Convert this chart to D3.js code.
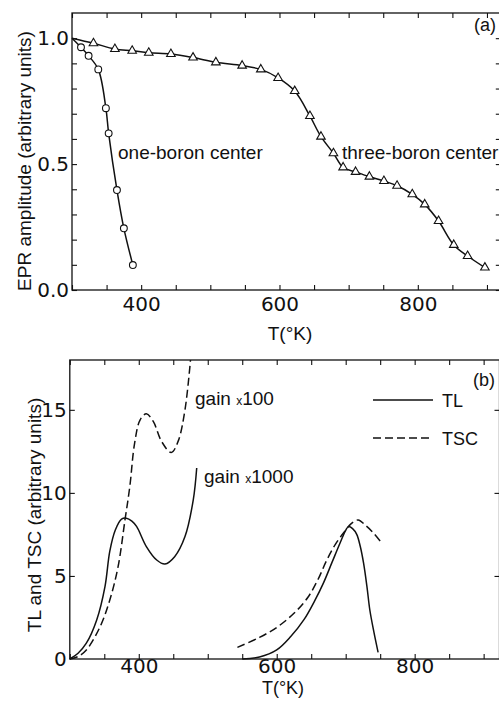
<!DOCTYPE html>
<html>
<head>
<meta charset="utf-8">
<script src="https://cdn.jsdelivr.net/npm/d3@7"></script>
<style>
  body { margin: 0; background: #fff; }
  text { font-family: "Liberation Sans", Arial, sans-serif; fill: #111; }
  .num text, text.num { font-family: "DejaVu Sans", sans-serif; font-size: 20px; }
</style>
</head>
<body>
<svg id="fig" width="499" height="703"></svg>
<script>
// (a) EPR amplitude vs temperature
const oneBoronT = [300, 313, 324, 338, 349, 353, 365, 375, 388];
const oneBoronAmp = [1.0, 0.964, 0.93, 0.876, 0.722, 0.622, 0.397, 0.245, 0.099];
const threeBoronT = [300, 331, 362, 387, 411, 443, 475, 508, 546, 573, 598, 622, 644, 660, 678, 692, 710, 730, 751, 770, 792, 810, 830, 852, 872, 897];
const threeBoronAmp = [1.0, 0.98, 0.957, 0.95, 0.942, 0.937, 0.923, 0.904, 0.891, 0.876, 0.842, 0.79, 0.691, 0.609, 0.543, 0.487, 0.469, 0.45, 0.433, 0.414, 0.38, 0.34, 0.274, 0.179, 0.135, 0.089];

// (b) TL and TSC glow curves (low-T part is shown with gain)
const tlLowT = [300, 312, 324, 339, 351, 358, 366, 375, 382, 390, 397, 411, 426, 438, 452, 467, 479, 484];
const tlLowI = [0, 0.35, 0.95, 2.35, 4.36, 6.5, 7.77, 8.42, 8.48, 8.3, 7.97, 6.77, 5.96, 5.72, 6.16, 7.37, 9.58, 11.5];
const tscLowT = [300, 312, 324, 344, 358, 370, 380, 387, 394, 402, 411, 421, 433, 447, 457, 467, 475];
const tscLowI = [0, 0.15, 0.54, 1.95, 3.55, 5.56, 8.37, 10.38, 13.0, 14.4, 14.76, 14.3, 13.1, 12.43, 13.1, 15.0, 18.0];
const tlHighT = [550, 575, 600, 620, 640, 655, 668, 680, 692, 700, 704, 710, 716, 721, 726, 731, 735, 741, 747];
const tlHighI = [0, 0.12, 0.55, 1.34, 2.4, 3.5, 4.6, 5.8, 7.0, 7.75, 7.97, 7.85, 7.5, 6.8, 5.75, 4.3, 2.95, 1.6, 0.4];
const tscHighT = [543, 575, 600, 625, 645, 660, 672, 685, 697, 708, 718, 730, 740, 750];
const tscHighI = [0.7, 1.3, 1.9, 2.75, 3.7, 4.8, 5.9, 6.9, 7.6, 8.15, 8.37, 8.0, 7.6, 7.1];

const xTicksMajor = [400, 600, 800];
const ampTicks = [0, 0.5, 1.0];
const glowTicks = [0, 5, 10, 15];
const legendItems = [{label: "TL", dash: null}, {label: "TSC", dash: "8,4"}];

const zip = (xs, ys) => xs.map((x, i) => [x, ys[i]]);

const svg = d3.select("#fig");
svg.append("rect").attr("width", 499).attr("height", 703).attr("fill", "#fff");

function frame(g, x, y, xMinor, yMinor, yLabels, yFmt) {
  let [x0, x1] = x.range(), [y0, y1] = y.range();
  // inward minor ticks on all visible sides
  g.append("g").attr("transform", `translate(0,${y0})`)
    .call(d3.axisBottom(x).tickValues(xMinor).tickSize(-5).tickFormat(""));
  g.append("g").attr("transform", `translate(0,${y1})`)
    .call(d3.axisTop(x).tickValues(xMinor).tickSize(-5).tickFormat(""));
  g.append("g").attr("transform", `translate(${x0},0)`)
    .call(d3.axisLeft(y).tickValues(yMinor).tickSize(-5).tickFormat(""));
  g.append("g").attr("transform", `translate(${x1},0)`)
    .call(d3.axisRight(y).tickValues(yMinor).tickSize(-5).tickFormat(""));
  g.selectAll(".domain").remove();
  g.selectAll(".tick line").attr("stroke", "#111").attr("stroke-width", 1.1);
  g.append("rect").attr("x", x0).attr("y", y1).attr("width", x1 - x0).attr("height", y0 - y1)
    .attr("fill", "none").attr("stroke", "#111").attr("stroke-width", 1.3);
  // labels
  g.append("g").attr("class", "num").attr("transform", `translate(${x0},0)`)
    .call(d3.axisLeft(y).tickValues(yLabels).tickSize(0).tickPadding(3).tickFormat(yFmt))
    .call(a => a.select(".domain").remove());
}

// ---------- panel (a)
const xA = d3.scaleLinear().domain([300, 920]).range([72, 500.8]);
const yA = d3.scaleLinear().domain([0, 1.1]).range([290, 13]);
const gA = svg.append("g");
frame(gA, xA, yA, d3.range(300, 901, 50), d3.range(0, 1.05, 0.1), ampTicks, d3.format(".1f"));
gA.append("g").attr("class", "num").attr("transform", "translate(0,290)")
  .call(d3.axisBottom(xA).tickValues(xTicksMajor).tickSize(0).tickPadding(7).tickFormat(d3.format("d")))
  .call(a => a.select(".domain").remove());

const lineA = d3.line().x(d => xA(d[0])).y(d => yA(d[1])).curve(d3.curveCatmullRom.alpha(0.5));
const oneB = zip(oneBoronT, oneBoronAmp), threeB = zip(threeBoronT, threeBoronAmp);
[threeB, oneB].forEach(s => gA.append("path").attr("d", lineA(s))
  .attr("fill", "none").attr("stroke", "#111").attr("stroke-width", 1.5));
gA.selectAll("circle.m").data(oneB.slice(1)).join("circle")
  .attr("cx", d => xA(d[0])).attr("cy", d => yA(d[1])).attr("r", 3.4)
  .attr("fill", "#fff").attr("stroke", "#111").attr("stroke-width", 1.1);
gA.selectAll("path.tri").data(threeB.slice(1)).join("path").attr("class", "tri")
  .attr("transform", d => `translate(${xA(d[0])},${yA(d[1])})`)
  .attr("d", d3.symbol(d3.symbolTriangle, 32))
  .attr("fill", "#fff").attr("stroke", "#111").attr("stroke-width", 1.1);

gA.append("text").attr("x", 118).attr("y", 159).attr("font-size", 19).text("one-boron center");
gA.append("text").attr("x", 342).attr("y", 159).attr("font-size", 19).text("three-boron center");
gA.append("text").attr("x", 474).attr("y", 31).attr("font-size", 18).text("(a)");
gA.append("text").attr("x", 290).attr("y", 340).attr("text-anchor", "middle").attr("font-size", 19).text("T(°K)");
gA.append("text").attr("transform", "translate(31,161) rotate(-90)").attr("text-anchor", "middle")
  .attr("font-size", 19).text("EPR amplitude (arbitrary units)");

// ---------- panel (b)
const xB = d3.scaleLinear().domain([300, 923]).range([69.8, 499.5]);
const yB = d3.scaleLinear().domain([0, 18]).range([659, 360]);
const gB = svg.append("g");
frame(gB, xB, yB, d3.range(300, 901, 50), [5, 10, 15], glowTicks, d3.format("d"));
gB.append("g").attr("class", "num").attr("transform", "translate(0,659)")
  .call(d3.axisBottom(xB).tickValues(xTicksMajor).tickSize(0).tickPadding(0).tickFormat(d3.format("d")))
  .call(a => a.select(".domain").remove())
  .call(a => a.selectAll("text").attr("font-size", 19));

const lineB = d3.line().x(d => xB(d[0])).y(d => yB(d[1])).curve(d3.curveCatmullRom.alpha(0.5));
[[tlLowT, tlLowI, null], [tlHighT, tlHighI, null], [tscLowT, tscLowI, "8,4"], [tscHighT, tscHighI, "8,4"]]
  .forEach(([t, v, dash]) => gB.append("path").attr("d", lineB(zip(t, v)))
    .attr("fill", "none").attr("stroke", "#111").attr("stroke-width", 1.5)
    .attr("stroke-dasharray", dash));

function gainLabel(x, y, n) {
  let t = gB.append("text").attr("x", x).attr("y", y).attr("font-size", 19);
  t.append("tspan").text("gain ");
  t.append("tspan").attr("font-size", 12).text("x");
  t.append("tspan").attr("class", "num").attr("font-size", 19).text(n);
}
gainLabel(195, 405, "100");
gainLabel(204, 483, "1000");

const leg = gB.selectAll("g.leg").data(legendItems).join("g").attr("class", "leg")
  .attr("transform", (d, i) => `translate(373,${400 + i * 38})`);
leg.append("line").attr("x1", 0).attr("x2", 60).attr("stroke", "#111").attr("stroke-width", 1.4)
  .attr("stroke-dasharray", d => d.dash);
leg.append("text").attr("x", 69).attr("y", 7).attr("font-size", 18).text(d => d.label);

gB.append("text").attr("x", 473).attr("y", 386).attr("font-size", 18).text("(b)");
gB.append("text").attr("x", 283).attr("y", 694).attr("text-anchor", "middle").attr("font-size", 18).text("T(°K)");
gB.append("text").attr("transform", "translate(41,515) rotate(-90)").attr("text-anchor", "middle")
  .attr("font-size", 19).text("TL and TSC (arbitrary units)");
</script>
</body>
</html>
